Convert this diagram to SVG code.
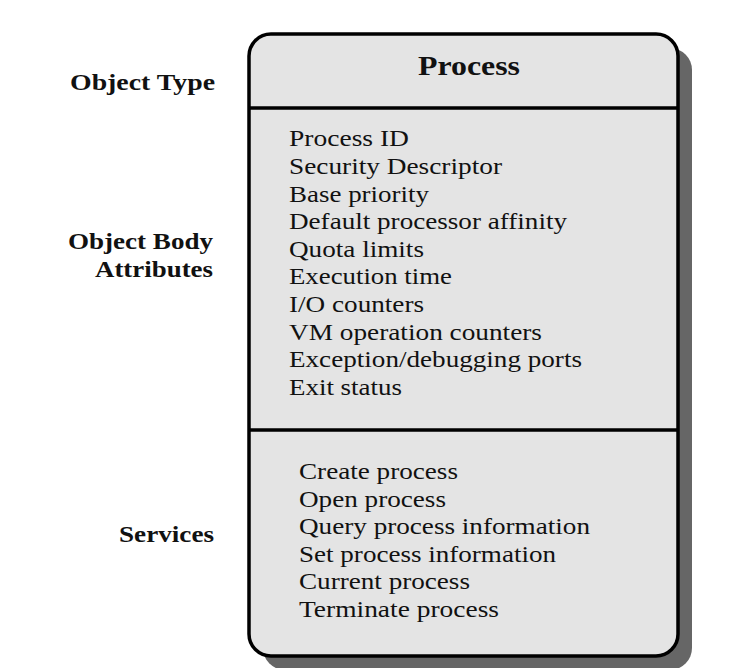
<svg xmlns="http://www.w3.org/2000/svg" width="740" height="668" viewBox="0 0 740 668">
<style>
.lbl{font-family:"Liberation Serif","Times New Roman",serif;font-weight:bold;font-size:23px;fill:#111}
.ttl{font-family:"Liberation Serif","Times New Roman",serif;font-weight:bold;font-size:27px;fill:#111}
.itm{font-family:"Liberation Serif","Times New Roman",serif;font-size:23px;fill:#111}
.div{stroke:#000;stroke-width:3.5}
</style>
<rect width="740" height="668" fill="#ffffff"/>
<g id="labels">
<text class="lbl" x="70" y="90" textLength="145" lengthAdjust="spacingAndGlyphs">Object Type</text>
<text class="lbl" x="68" y="249" textLength="145" lengthAdjust="spacingAndGlyphs">Object Body</text>
<text class="lbl" x="95" y="276.7" textLength="118" lengthAdjust="spacingAndGlyphs">Attributes</text>
<text class="lbl" x="119" y="541.7" textLength="95" lengthAdjust="spacingAndGlyphs">Services</text>
</g>
<g id="process-object">
<rect x="263" y="48" width="429" height="622" rx="22" fill="#666666"/>
<rect x="249" y="34" width="429" height="622" rx="22" fill="#e4e4e4" stroke="#000" stroke-width="3.5"/>
<line class="div" x1="249" y1="108" x2="678" y2="108"/>
<line class="div" x1="249" y1="430" x2="678" y2="430"/>
<text class="ttl" x="418" y="75" textLength="102" lengthAdjust="spacingAndGlyphs">Process</text>
</g>
<g id="attributes">
<text class="itm" x="289" y="146.3" textLength="120" lengthAdjust="spacingAndGlyphs">Process ID</text>
<text class="itm" x="289" y="173.9" textLength="213" lengthAdjust="spacingAndGlyphs">Security Descriptor</text>
<text class="itm" x="289" y="201.5" textLength="140" lengthAdjust="spacingAndGlyphs">Base priority</text>
<text class="itm" x="289" y="229.1" textLength="278" lengthAdjust="spacingAndGlyphs">Default processor affinity</text>
<text class="itm" x="289" y="256.7" textLength="135" lengthAdjust="spacingAndGlyphs">Quota limits</text>
<text class="itm" x="289" y="284.3" textLength="163" lengthAdjust="spacingAndGlyphs">Execution time</text>
<text class="itm" x="289" y="311.9" textLength="135" lengthAdjust="spacingAndGlyphs">I/O counters</text>
<text class="itm" x="289" y="339.5" textLength="253" lengthAdjust="spacingAndGlyphs">VM operation counters</text>
<text class="itm" x="289" y="367.1" textLength="293" lengthAdjust="spacingAndGlyphs">Exception/debugging ports</text>
<text class="itm" x="289" y="394.7" textLength="113" lengthAdjust="spacingAndGlyphs">Exit status</text>
</g>
<g id="services">
<text class="itm" x="299" y="479" textLength="159" lengthAdjust="spacingAndGlyphs">Create process</text>
<text class="itm" x="299" y="506.6" textLength="147" lengthAdjust="spacingAndGlyphs">Open process</text>
<text class="itm" x="299" y="534.2" textLength="291" lengthAdjust="spacingAndGlyphs">Query process information</text>
<text class="itm" x="299" y="561.8" textLength="257" lengthAdjust="spacingAndGlyphs">Set process information</text>
<text class="itm" x="299" y="589.4" textLength="171" lengthAdjust="spacingAndGlyphs">Current process</text>
<text class="itm" x="299" y="617" textLength="200" lengthAdjust="spacingAndGlyphs">Terminate process</text>
</g>
<g id="connectors"/>
</svg>
